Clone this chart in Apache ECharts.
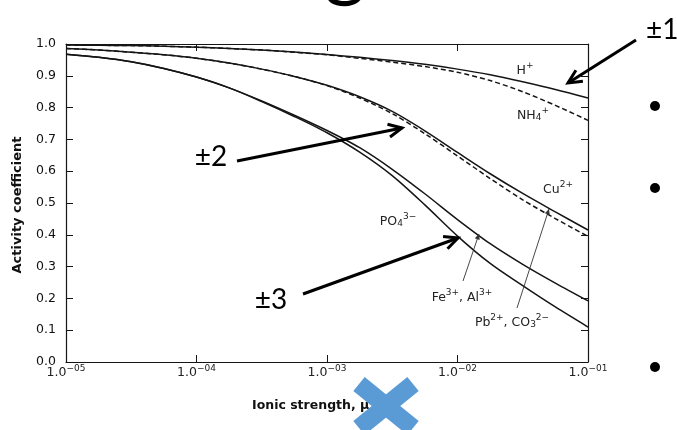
<!DOCTYPE html>
<html><head><meta charset="utf-8">
<script src="https://cdn.jsdelivr.net/npm/echarts@6/dist/echarts.min.js"></script>
<style>html,body{margin:0;padding:0;background:#fff;}#c{width:677px;height:430px;}</style>
</head><body><div id="c"></div>
<script>
// Ionic strength sample points (10^-5 ... 10^-1, quarter-decade steps)
const ionicStrength = [1e-5, 1.78e-5, 3.16e-5, 5.62e-5, 1e-4, 1.78e-4, 3.16e-4, 5.62e-4, 1e-3,
                       1.78e-3, 3.16e-3, 5.62e-3, 1e-2, 1.78e-2, 3.16e-2, 5.62e-2, 1e-1];
// Activity coefficients
const hPlus = [0.997, 0.996, 0.995, 0.993, 0.990, 0.986, 0.981, 0.975, 0.967, 0.958, 0.948, 0.936, 0.921, 0.903, 0.881, 0.857, 0.830];
const nh4   = [0.997, 0.996, 0.995, 0.993, 0.990, 0.986, 0.981, 0.974, 0.966, 0.955, 0.943, 0.929, 0.911, 0.885, 0.850, 0.807, 0.760];
const cu    = [0.986, 0.981, 0.974, 0.966, 0.955, 0.940, 0.921, 0.898, 0.870, 0.834, 0.788, 0.727, 0.659, 0.592, 0.530, 0.472, 0.415];
const pbCo3 = [0.986, 0.981, 0.974, 0.966, 0.955, 0.940, 0.921, 0.898, 0.869, 0.830, 0.781, 0.718, 0.648, 0.577, 0.510, 0.451, 0.395];
const feAl  = [0.968, 0.958, 0.944, 0.923, 0.896, 0.862, 0.821, 0.776, 0.728, 0.674, 0.606, 0.529, 0.448, 0.372, 0.307, 0.248, 0.192];
const po4   = [0.968, 0.958, 0.944, 0.923, 0.896, 0.862, 0.819, 0.772, 0.721, 0.660, 0.586, 0.494, 0.396, 0.310, 0.240, 0.173, 0.110];
// Tick labels
const xTickExponents = ['\u221205', '\u221204', '\u221203', '\u221202', '\u221201'];
const yTickLabels = ['0.0','0.1','0.2','0.3','0.4','0.5','0.6','0.7','0.8','0.9','1.0'];

const chart = echarts.init(document.getElementById('c'), null, {renderer: 'canvas'});
const ink = '#151515';
const F = 'DejaVu Sans, Liberation Sans, sans-serif';
const S = 'Lato, Open Sans, sans-serif';

function pairs(ys){ return ionicStrength.map((x,i)=>[x, ys[i]]); }
function line(name, ys, dashed){
  return {name, type:'line', data: pairs(ys), smooth: 0.3, symbol:'none',
    lineStyle:{color: ink, width: 1.5, type: dashed ? [5,3] : 'solid'}, z: 3};
}
function rich(base, sup){
  return {
    b:{fontFamily:F, fontSize:base, color:'#222', lineHeight:base+3, verticalAlign:'bottom'},
    s:{fontFamily:F, fontSize:sup, color:'#222', lineHeight:sup, verticalAlign:'top'},
    u:{fontFamily:F, fontSize:sup, color:'#222', lineHeight:sup, verticalAlign:'bottom'}
  };
}
const richLbl = rich(12.5, 9);
const richTick = rich(12.5, 9);
function lbl(text, x, y){
  return {type:'text', x, y, z: 10, style:{text, x:0, y:0, align:'center', verticalAlign:'middle', rich: richLbl, fill:'#222'}};
}
function arrow(x1,y1,x2,y2,w,hl,col,filled){
  const a = Math.atan2(y2-y1, x2-x1), sp = 0.45;
  const p1 = [x2 - hl*Math.cos(a-sp), y2 - hl*Math.sin(a-sp)];
  const p2 = [x2 - hl*Math.cos(a+sp), y2 - hl*Math.sin(a+sp)];
  const els = [{type:'line', z: 12, shape:{x1,y1,x2,y2}, style:{stroke:col, lineWidth:w}}];
  if (filled) els.push({type:'polygon', z:12, shape:{points:[[x2,y2],p1,p2]}, style:{fill:col}});
  else els.push({type:'polyline', z:12, shape:{points:[p1,[x2,y2],p2]}, style:{stroke:col, lineWidth:w, fill:null, lineJoin:'miter'}});
  return els;
}
const axisCommon = {axisLine:{show:true, onZero:false, lineStyle:{color:ink, width:1.2}}, splitLine:{show:false}};
const tickCommon = {show:true, inside:true, length:7, lineStyle:{color:ink, width:1}};

const graphics = [
  {type:'text', z:10, x:345, y:5, style:{text:'g', x:0, y:0, align:'center', verticalAlign:'bottom', fontFamily:S, fontSize:80, fill:'#000'}},
  lbl('{b|H}{s|+}', 525, 69),
  lbl('{b|NH}{u|4}{s|+}', 533, 114),
  lbl('{b|Cu}{s|2+}', 558, 188),
  lbl('{b|PO}{u|4}{s|3\u2212}', 398, 220),
  lbl('{b|Fe}{s|3+}{b|, Al}{s|3+}', 462, 296),
  lbl('{b|Pb}{s|2+}{b|, CO}{u|3}{s|2\u2212}', 512, 321),
  {type:'text', z:10, x:18, y:205, rotation: Math.PI/2, style:{text:'Activity coefficient', x:0, y:0, align:'center', verticalAlign:'middle', fontFamily:F, fontSize:13, fontWeight:'bold', fill:'#111'}},
  {type:'text', z:10, x:252, y:406, style:{text:'Ionic strength, \u03bc', x:0, y:0, align:'left', verticalAlign:'middle', fontFamily:F, fontSize:12.5, fontWeight:'bold', fill:'#111'}},
  {type:'text', z:10, x:211, y:157, style:{text:'\u00b12', x:0, y:0, align:'center', verticalAlign:'middle', fontFamily:S, fontSize:28, fill:'#000'}},
  {type:'text', z:10, x:271, y:300, style:{text:'\u00b13', x:0, y:0, align:'center', verticalAlign:'middle', fontFamily:S, fontSize:28, fill:'#000'}},
  {type:'text', z:10, x:646, y:30, style:{text:'\u00b11', x:0, y:0, align:'left', verticalAlign:'middle', fontFamily:S, fontSize:28, fill:'#000'}},
  {type:'circle', z:10, shape:{cx:655, cy:106, r:5}, style:{fill:'#000'}},
  {type:'circle', z:10, shape:{cx:655, cy:188, r:5}, style:{fill:'#000'}},
  {type:'circle', z:10, shape:{cx:655, cy:367, r:5}, style:{fill:'#000'}},
  ...arrow(636,40,568,83,3,15,'#000',false),
  ...arrow(237,161,402,128,3,15,'#000',false),
  ...arrow(303,294,458,238,3,15,'#000',false),
  ...arrow(463,281,479,234,0.9,6,'#333',true),
  ...arrow(517,308,549,209,0.9,6,'#333',true),
  {type:'line', z:20, shape:{x1:359,y1:384,x2:413,y2:428}, style:{stroke:'#5B9BD5', lineWidth:18, lineCap:'butt'}},
  {type:'line', z:20, shape:{x1:413,y1:384,x2:359,y2:428}, style:{stroke:'#5B9BD5', lineWidth:18, lineCap:'butt'}}
];

chart.setOption({
  animation:false,
  backgroundColor:'#fff',
  grid:{left:66, right:89, top:44, bottom:68},
  xAxis:[
    Object.assign({type:'log', logBase:10, min:1e-5, max:1e-1, interval:1, position:'bottom',
      axisTick:tickCommon, minorTick:{show:false},
      axisLabel:{margin:2, formatter:(v)=>{const i=Math.round(Math.log10(v))+5; return '{b|1.0}{s|'+xTickExponents[i]+'}';}, rich:richTick}
    }, axisCommon),
    Object.assign({type:'value', min:-5, max:-1, interval:1, position:'top',
      axisTick:tickCommon, axisLabel:{show:false}}, axisCommon)
  ],
  yAxis:[
    Object.assign({type:'value', min:0, max:1, interval:0.1, position:'left',
      axisTick:tickCommon,
      axisLabel:{margin:10, fontFamily:F, fontSize:12.5, color:'#111', formatter:(v)=>yTickLabels[Math.round(v*10)]}
    }, axisCommon),
    Object.assign({type:'value', min:0, max:1, interval:0.1, position:'right',
      axisTick:tickCommon, axisLabel:{show:false}}, axisCommon)
  ],
  series:[
    line('H+', hPlus, false),
    line('NH4+', nh4, true),
    line('Cu2+', cu, false),
    line('Pb2+, CO3 2-', pbCo3, true),
    line('Fe3+, Al3+', feAl, false),
    line('PO4 3-', po4, false)
  ],
  graphic: graphics
});
</script></body></html>
